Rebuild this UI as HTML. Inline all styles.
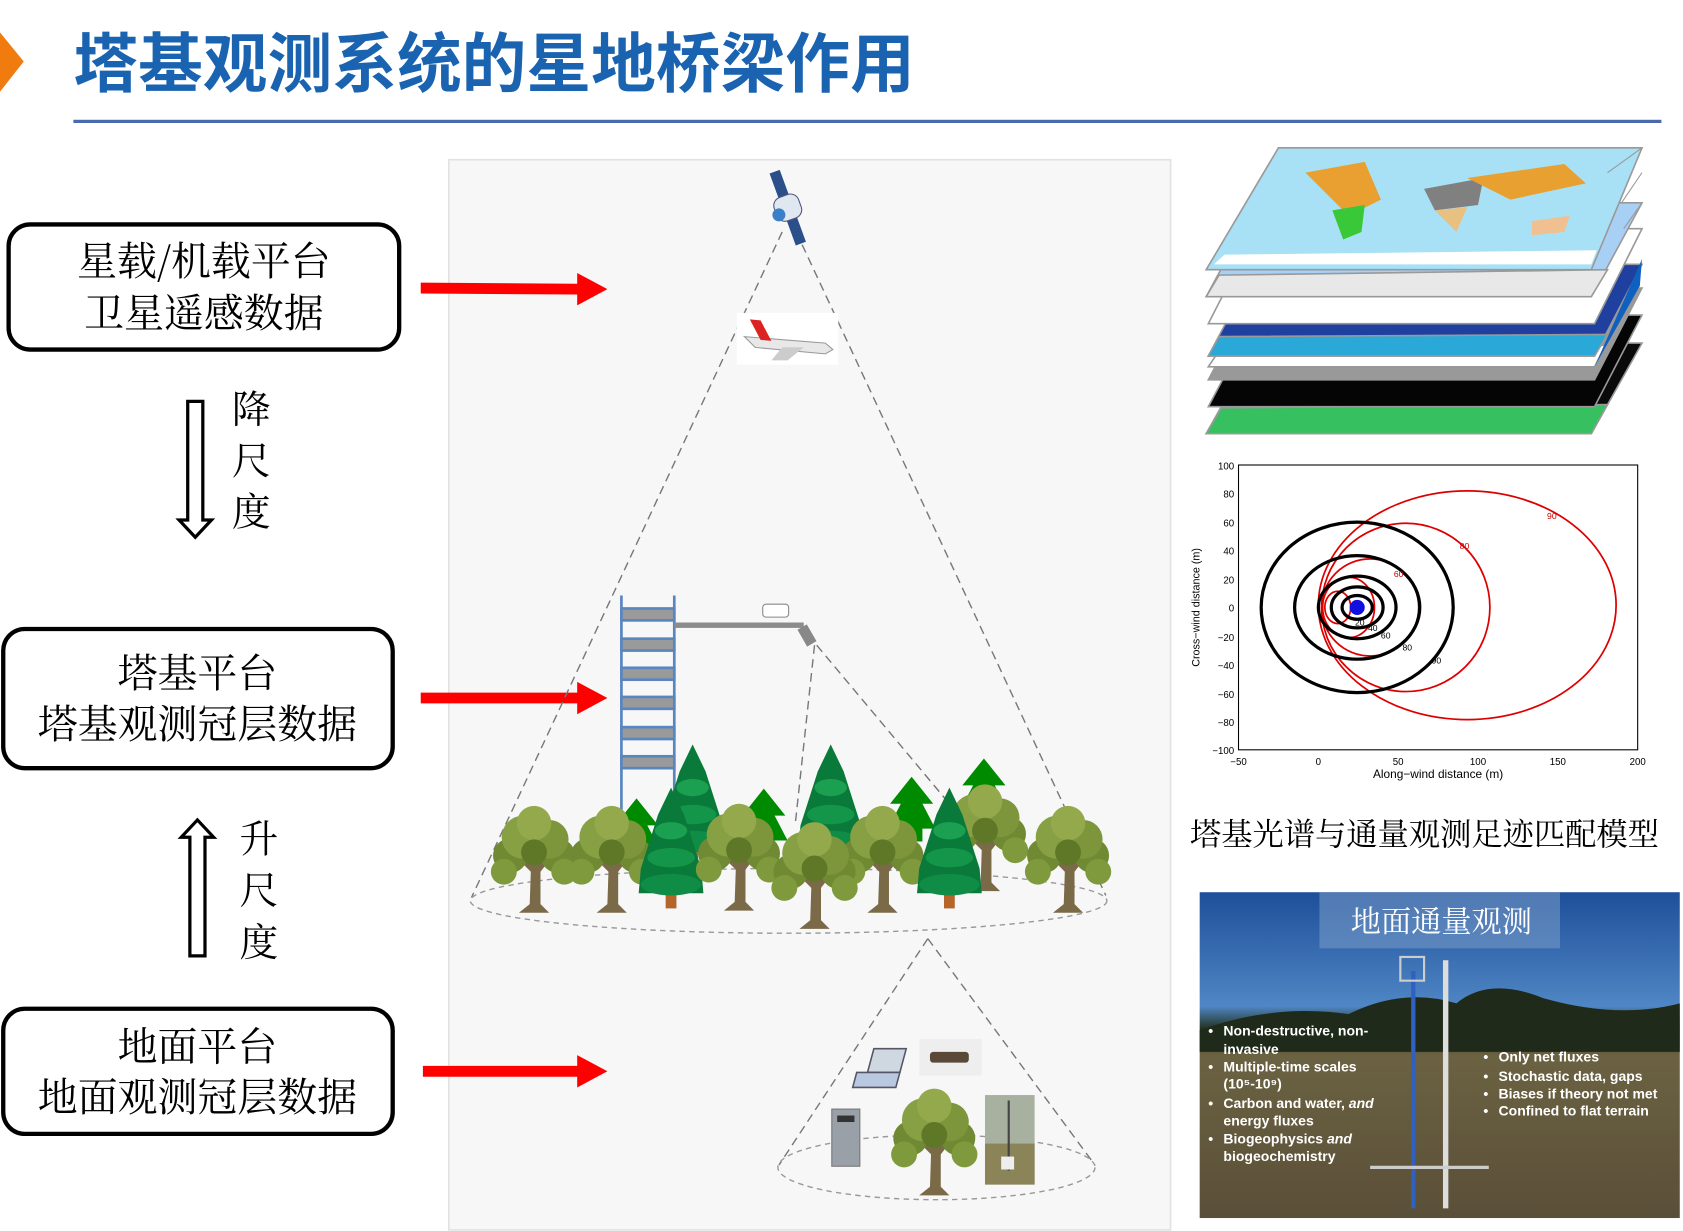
<!DOCTYPE html>
<html><head><meta charset="utf-8"><style>
html,body{margin:0;padding:0;background:#fff;}
svg{display:block;}
text{font-family:"Liberation Sans","Noto Sans CJK SC",sans-serif;}
.cj{font-family:"Noto Serif CJK SC","Noto Sans CJK SC",serif;}
</style></head><body>
<svg width="1683" height="1231" viewBox="0 0 1560 1141" xmlns="http://www.w3.org/2000/svg">
<defs>
<g id="dt">
 <path d="M-4,0 L-3,-30 L-18,-45 L-4,-38 L-2,-55 L4,-55 L5,-40 L20,-48 L6,-30 L6,0 L14,8 L-14,8 Z" fill="#7a6a48"/>
 <circle cx="-22" cy="-45" r="16" fill="#6f8a32"/>
 <circle cx="22" cy="-45" r="16" fill="#6f8a32"/>
 <circle cx="-28" cy="-30" r="12" fill="#7f9a3c"/>
 <circle cx="28" cy="-30" r="12" fill="#7f9a3c"/>
 <circle cx="-10" cy="-62" r="20" fill="#88a044"/>
 <circle cx="14" cy="-60" r="18" fill="#7d963c"/>
 <circle cx="0" cy="-75" r="16" fill="#93a94c"/>
 <circle cx="0" cy="-48" r="12" fill="#5f7828"/>
</g>
<g id="ct">
 <rect x="-5" y="-12" width="10" height="14" fill="#b5652a"/>
 <path d="M0,-110 L-12,-85 L-20,-60 L-28,-35 L-30,-12 L30,-12 L28,-35 L20,-60 L12,-85 Z" fill="#0a7a3a"/>
 <ellipse cx="0" cy="-20" rx="28" ry="10" fill="#0f8c45"/>
 <ellipse cx="0" cy="-45" rx="22" ry="9" fill="#14964a"/>
 <ellipse cx="0" cy="-70" rx="15" ry="8" fill="#1aa050"/>
</g>
<g id="gt">
 <path d="M0,0 L-20,25 L-10,25 L-22,48 L-10,48 L-10,60 L10,60 L10,48 L22,48 L10,25 L20,25 Z" fill="#008a00"/>
</g>
<linearGradient id="sky" x1="0" y1="0" x2="0" y2="1">
 <stop offset="0" stop-color="#1e4f9a"/><stop offset="0.35" stop-color="#4f86c4"/><stop offset="0.42" stop-color="#23301e"/><stop offset="0.5" stop-color="#6b6242"/><stop offset="1" stop-color="#5a4f38"/>
</linearGradient>
</defs>

<!-- title -->
<path d="M0,30 L22,57 L0,85 Z" fill="#f07c10"/>
<text x="68" y="80" font-size="60" font-weight="bold" fill="#1a63b0" class="cj" style="font-family:'Noto Sans CJK SC',sans-serif">塔基观测系统的星地桥梁作用</text>
<rect x="68" y="111" width="1472" height="3" fill="#4a6ab0"/>

<!-- left boxes -->
<rect x="8" y="208" width="362" height="116" rx="20" fill="#fff" stroke="#000" stroke-width="4"/>
<text x="189" y="255" font-size="37" text-anchor="middle" class="cj">星载/机载平台</text>
<text x="189" y="303" font-size="37" text-anchor="middle" class="cj">卫星遥感数据</text>
<rect x="3" y="583" width="361" height="129" rx="20" fill="#fff" stroke="#000" stroke-width="4"/>
<text x="183" y="637" font-size="37" text-anchor="middle" class="cj">塔基平台</text>
<text x="183" y="684" font-size="37" text-anchor="middle" class="cj">塔基观测冠层数据</text>
<rect x="3" y="935" width="361" height="116" rx="20" fill="#fff" stroke="#000" stroke-width="4"/>
<text x="183" y="983" font-size="37" text-anchor="middle" class="cj">地面平台</text>
<text x="183" y="1030" font-size="37" text-anchor="middle" class="cj">地面观测冠层数据</text>

<!-- hollow arrows -->
<path d="M174,372 L188,372 L188,482 L196,482 L181,498 L166,482 L174,482 Z" fill="#fff" stroke="#000" stroke-width="3"/>
<text x="215" y="392" font-size="36" class="cj">降</text>
<text x="215" y="440" font-size="36" class="cj">尺</text>
<text x="215" y="487" font-size="36" class="cj">度</text>
<path d="M176,886 L190,886 L190,776 L198,776 L183,760 L168,776 L176,776 Z" fill="#fff" stroke="#000" stroke-width="3"/>
<text x="222" y="790" font-size="36" class="cj">升</text>
<text x="222" y="838" font-size="36" class="cj">尺</text>
<text x="222" y="886" font-size="36" class="cj">度</text>

<!-- center panel -->
<rect x="416" y="148" width="669" height="992" fill="#f7f7f7" stroke="#e2e2e2" stroke-width="1.5"/>

<!-- red arrows -->
<g fill="#f00">
<path d="M390,262 L535,263 L535,253 L563,268 L535,283 L535,273 L390,272 Z"/>
<path d="M390,642 L535,642 L535,632 L563,647 L535,662 L535,652 L390,652 Z"/>
<path d="M392,988 L535,988 L535,978 L563,993 L535,1008 L535,998 L392,998 Z"/>
</g>

<!-- cones -->
<g fill="none" stroke="#777" stroke-width="1.3" stroke-dasharray="8,5">
<line x1="725" y1="215" x2="437" y2="832"/>
<line x1="738" y1="215" x2="1025" y2="830"/>
<ellipse cx="731" cy="835" rx="295" ry="30" stroke="#999" stroke-dasharray="5,4"/>
<line x1="755" y1="598" x2="737" y2="765"/>
<line x1="757" y1="598" x2="880" y2="745"/>
<line x1="860" y1="870" x2="722" y2="1080"/>
<line x1="860" y1="870" x2="1015" y2="1080"/>
<ellipse cx="868" cy="1082" rx="147" ry="30" stroke="#999" stroke-dasharray="5,4"/>
</g>

<!-- satellite -->
<g transform="translate(730,192) rotate(-20)">
<rect x="-5" y="-35" width="10" height="24" fill="#2a4f8a"/>
<rect x="-5" y="12" width="10" height="24" fill="#2a4f8a"/>
<rect x="-12" y="-11" width="24" height="23" rx="8" fill="#dfe8f0" stroke="#557" stroke-width="1"/>
<circle cx="-10" cy="4" r="6" fill="#3a7fc8"/>
</g>
<!-- plane -->
<rect x="683" y="290" width="94" height="48" fill="#fff"/>
<path d="M690,312 L765,318 L772,324 L765,328 L700,322 Z" fill="#e8e8e8" stroke="#999" stroke-width="1"/>
<path d="M705,315 L695,296 L705,297 L715,316 Z" fill="#d22"/>
<path d="M725,322 L715,334 L730,334 L745,322 Z" fill="#ccc"/>

<!-- tower -->
<g fill="#9a9a9a" stroke="#5a86c0" stroke-width="2.5">
<line x1="576" y1="552" x2="576" y2="800"/><line x1="625" y1="552" x2="625" y2="800"/>
<rect x="576" y="564" width="49" height="11"/><rect x="576" y="592" width="49" height="11"/>
<rect x="576" y="619" width="49" height="11"/><rect x="576" y="646" width="49" height="11"/>
<rect x="576" y="674" width="49" height="11"/><rect x="576" y="701" width="49" height="11"/>
</g>
<rect x="625" y="577" width="120" height="5" fill="#8c8c8c"/>
<rect x="707" y="560" width="24" height="12" rx="3" fill="#fff" stroke="#888"/>
<rect x="743" y="580" width="10" height="18" fill="#888" transform="rotate(-30 748 589)"/>

<!-- trees -->
<use href="#gt" x="590" y="740"/><use href="#gt" x="708" y="731"/><use href="#gt" x="845" y="720"/><use href="#gt" x="912" y="703"/>
<use href="#ct" x="642" y="800"/><use href="#ct" x="770" y="800"/>
<use href="#dt" x="495" y="838"/><use href="#dt" x="567" y="838"/>
<use href="#ct" x="622" y="840"/>
<use href="#dt" x="685" y="836"/><use href="#dt" x="913" y="818"/>
<use href="#dt" x="818" y="838"/><use href="#ct" x="880" y="840"/>
<use href="#dt" x="755" y="853"/><use href="#dt" x="990" y="838"/>

<!-- ground devices -->
<g transform="translate(800,972) skewX(-15)">
<rect x="10" y="0" width="30" height="22" fill="#cfd8e0" stroke="#556" stroke-width="1.5"/>
<rect x="0" y="22" width="40" height="14" fill="#b8c8e0" stroke="#556" stroke-width="1.5"/>
</g>
<rect x="852" y="963" width="58" height="34" fill="#eee"/>
<rect x="862" y="975" width="36" height="10" rx="3" fill="#5a4838"/>
<rect x="771" y="1028" width="26" height="53" fill="#9aa0a8" stroke="#777"/>
<rect x="776" y="1034" width="16" height="6" fill="#333"/>
<use href="#dt" x="866" y="1100"/>
<rect x="913" y="1015" width="46" height="83" fill="#a8b0a0"/>
<rect x="913" y="1060" width="46" height="38" fill="#8a8458"/>
<line x1="935" y1="1020" x2="935" y2="1085" stroke="#444" stroke-width="2"/>
<rect x="928" y="1072" width="12" height="12" fill="#eee"/>

<!-- map stack -->
<g stroke="#999" stroke-width="1.5">
<path d="M1118,402 L1475,402 L1522,318 L1165,318 Z" fill="#0a0a0a"/>
<path d="M1118,402 L1475,402 L1490,375 L1132,378 Z" fill="#37c060"/>
<path d="M1120,377 L1478,377 L1522,292 L1165,292 Z" fill="#050505"/>
<path d="M1120,352 L1478,352 L1522,267 L1165,267 Z" fill="#999"/>
<path d="M1120,340 L1478,340 L1488,320 L1132,322 Z" fill="#fff"/>
<path d="M1120,330 L1478,330 L1522,245 L1165,245 Z" fill="#2040a0"/>
<path d="M1120,330 L1478,330 L1490,310 L1130,312 Z" fill="#2aa8d8"/>
<path d="M1120,300 L1478,300 L1522,212 L1165,212 Z" fill="#fff"/>
<path d="M1118,275 L1475,275 L1522,188 L1165,188 Z" fill="#a8d0f5"/>
<path d="M1118,275 L1475,275 L1490,250 L1130,255 Z" fill="#e8e8e8"/>
<path d="M1118,250 L1475,250 L1522,137 L1185,137 Z" fill="#a8e0f5"/>
</g>
<g stroke="none">
<path d="M1210,160 L1265,150 L1280,185 L1250,200 Z" fill="#e9a030"/>
<path d="M1235,195 L1265,190 L1262,215 L1245,222 Z" fill="#38c838"/>
<path d="M1320,175 L1375,165 L1370,190 L1330,195 Z" fill="#808080"/>
<path d="M1360,165 L1450,152 L1470,170 L1400,185 Z" fill="#e8a030"/>
<path d="M1420,205 L1455,200 L1450,215 L1420,218 Z" fill="#f0c090"/>
<path d="M1330,195 L1360,192 L1350,215 Z" fill="#e8c080"/>
<path d="M1125,245 L1475,245 L1480,232 L1135,236 Z" fill="#fff"/>
</g>
<path d="M1490,160 L1522,137 M1503,188 L1522,160 M1505,212 L1522,188" stroke="#999" fill="none"/>
<path d="M1478,340 L1520,265 L1522,240 Z" fill="#1060c0"/>

<!-- chart -->
<g font-size="9" fill="#000" text-anchor="end">
<text x="1144" y="435">100</text><text x="1144" y="461">80</text><text x="1144" y="488">60</text>
<text x="1144" y="514">40</text><text x="1144" y="541">20</text><text x="1144" y="567">0</text>
<text x="1144" y="594">−20</text><text x="1144" y="620">−40</text><text x="1144" y="647">−60</text>
<text x="1144" y="673">−80</text><text x="1144" y="699">−100</text>
</g>
<g font-size="9" text-anchor="middle">
<text x="1148" y="709">−50</text><text x="1222" y="709">0</text><text x="1296" y="709">50</text>
<text x="1370" y="709">100</text><text x="1444" y="709">150</text><text x="1518" y="709">200</text>
</g>
<text x="1333" y="721" font-size="11" text-anchor="middle">Along−wind distance (m)</text>
<text x="1112" y="563" font-size="10" text-anchor="middle" transform="rotate(-90 1112 563)">Cross−wind distance (m)</text>
<rect x="1148" y="431" width="370" height="264" fill="none" stroke="#000" stroke-width="1"/>
<g fill="none" stroke="#d00" stroke-width="1.6">
<ellipse cx="1360" cy="561" rx="138" ry="106"/>
<ellipse cx="1303" cy="563" rx="78" ry="78"/>
<ellipse cx="1270" cy="563" rx="45" ry="45"/>
<ellipse cx="1250" cy="563" rx="24" ry="28"/>
<ellipse cx="1240" cy="563" rx="12" ry="15"/>
</g>
<g fill="none" stroke="#000" stroke-width="3">
<ellipse cx="1258" cy="563" rx="89" ry="79"/>
<ellipse cx="1258" cy="563" rx="58" ry="48"/>
<ellipse cx="1258" cy="563" rx="36" ry="29"/>
<ellipse cx="1258" cy="563" rx="24" ry="19"/>
<ellipse cx="1258" cy="563" rx="14" ry="11"/>
</g>
<circle cx="1258" cy="563" r="7" fill="#1010e0"/>
<g font-size="8" fill="#c00"><text x="1434" y="481">90</text><text x="1353" y="509">80</text><text x="1292" y="535">60</text></g>
<g font-size="8"><text x="1327" y="615">90</text><text x="1300" y="603">80</text><text x="1280" y="592">60</text><text x="1268" y="585">40</text><text x="1256" y="580">20</text></g>

<text x="1103" y="783" font-size="29" class="cj">塔基光谱与通量观测足迹匹配模型</text>

<!-- photo -->
<rect x="1112" y="827" width="445" height="302" fill="url(#sky)"/>
<path d="M1112,955 Q1180,930 1250,940 Q1300,915 1350,930 Q1380,905 1430,925 Q1500,945 1557,930 L1557,975 L1112,975 Z" fill="#1f2a1a"/>
<rect x="1223" y="827" width="223" height="52" fill="#7a9cc8" opacity="0.55"/>
<text x="1336" y="864" font-size="28" fill="#fff" text-anchor="middle" class="cj">地面通量观测</text>
<line x1="1310" y1="900" x2="1310" y2="1120" stroke="#3060c0" stroke-width="4"/>
<line x1="1340" y1="890" x2="1340" y2="1120" stroke="#ddd" stroke-width="5"/>
<rect x="1298" y="887" width="22" height="22" fill="none" stroke="#ccc" stroke-width="2"/>
<line x1="1270" y1="1082" x2="1380" y2="1082" stroke="#ccc" stroke-width="3"/>
<g font-size="13" fill="#fff" font-weight="bold">
<text x="1120" y="960">•</text><text x="1134" y="960">Non-destructive, non-</text>
<text x="1134" y="977">invasive</text>
<text x="1120" y="993">•</text><text x="1134" y="993">Multiple-time scales</text>
<text x="1134" y="1009">(10⁵-10⁹)</text>
<text x="1120" y="1027">•</text><text x="1134" y="1027">Carbon and water, <tspan font-style="italic">and</tspan></text>
<text x="1134" y="1043">energy fluxes</text>
<text x="1120" y="1060">•</text><text x="1134" y="1060">Biogeophysics <tspan font-style="italic">and</tspan></text>
<text x="1134" y="1076">biogeochemistry</text>
<text x="1375" y="984">•</text><text x="1389" y="984">Only net fluxes</text>
<text x="1375" y="1002">•</text><text x="1389" y="1002">Stochastic data, gaps</text>
<text x="1375" y="1018">•</text><text x="1389" y="1018">Biases if theory not met</text>
<text x="1375" y="1034">•</text><text x="1389" y="1034">Confined to flat terrain</text>
</g>
</svg>
</body></html>
